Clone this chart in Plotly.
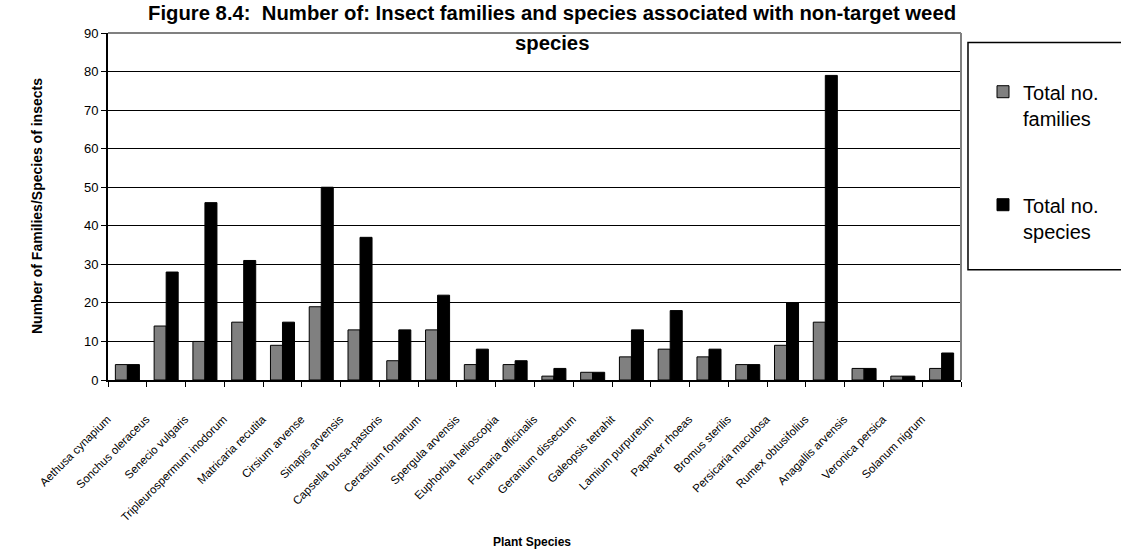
import plotly.graph_objects as go

# Weed species on the category axis
plants = [
    "Aethusa cynapium", "Sonchus oleraceus", "Senecio vulgaris",
    "Tripleurospermum inodorum", "Matricaria recutita", "Cirsium arvense",
    "Sinapis arvensis", "Capsella bursa-pastoris", "Cerastium fontanum",
    "Spergula arvensis", "Euphorbia helioscopia", "Fumaria officinalis",
    "Geranium dissectum", "Galeopsis tetrahit", "Lamium purpureum",
    "Papaver rhoeas", "Bromus sterilis", "Persicaria maculosa",
    "Rumex obtusifolius", "Anagallis arvensis", "Veronica persica",
    "Solanum nigrum",
]

# Insect counts per weed species
families = [4, 14, 10, 15, 9, 19, 13, 5, 13, 4, 4, 1, 2, 6, 8, 6, 4, 9, 15, 3, 1, 3]
species = [4, 28, 46, 31, 15, 50, 37, 13, 22, 8, 5, 3, 2, 13, 18, 8, 4, 20, 79, 3, 1, 7]

y_ticks = list(range(0, 91, 10))

FONT = "Liberation Sans, Arial, sans-serif"
NARROW = "Liberation Sans Narrow, Arial Narrow, Liberation Sans, Arial, sans-serif"

fig = go.Figure()
fig.add_bar(
    x=plants, y=families, name="Total no.<br>families", legendgroup="fam",
    marker=dict(color="#808080", line=dict(color="#000000", width=1)),
)
fig.add_bar(
    x=plants, y=species, name="Total no.<br>species", legendgroup="spp",
    marker=dict(color="#000000", line=dict(color="#000000", width=1)),
)

fig.update_layout(
    width=1121, height=556,
    margin=dict(l=108, r=160, t=33, b=176, autoexpand=False),
    paper_bgcolor="white", plot_bgcolor="white",
    barmode="group", bargap=0.38, bargroupgap=0,
    font=dict(family=FONT, color="black"),
    showlegend=True,
    legend=dict(
        x=1.0258, y=0.887, xanchor="left", yanchor="top",
        font=dict(family=FONT, size=20, color="black"),
        valign="top", tracegroupgap=58, traceorder="grouped",
        bgcolor="rgba(0,0,0,0)", borderwidth=0,
    ),
    xaxis=dict(
        type="category", tickson="boundaries", ticks="outside", ticklen=5,
        tickcolor="black", tickwidth=1, showline=True, linecolor="black",
        linewidth=2, showgrid=False, tickangle=-45,
        tickfont=dict(family=NARROW, size=11.5, color="black"),
        ticklabelstandoff=26, ticklabelshift=-20,
    ),
    yaxis=dict(
        range=[0, 90], tickvals=y_ticks, ticktext=[str(v) for v in y_ticks],
        showgrid=True, gridcolor="black", gridwidth=1,
        showline=True, linecolor="black", linewidth=2,
        ticks="outside", ticklen=5, tickcolor="black", tickwidth=1,
        tickfont=dict(family=FONT, size=13, color="black"), zeroline=False,
    ),
    shapes=[
        # grey frame on top and right of the plotting area
        dict(type="line", xref="paper", yref="paper", x0=0, x1=1, y0=1, y1=1,
             line=dict(color="#808080", width=2), layer="above"),
        dict(type="line", xref="paper", yref="paper", x0=1, x1=1, y0=0, y1=1,
             line=dict(color="#808080", width=2), layer="above"),
        # legend frame
        dict(type="rect", xref="paper", yref="paper", x0=1.0082, x1=1.2, y0=0.3175, y1=0.9726,
             line=dict(color="black", width=1.5), fillcolor="rgba(0,0,0,0)"),
    ],
    annotations=[
        dict(text="Figure 8.4:\u00a0 Number of: Insect families and species associated with non-target weed",
             xref="paper", yref="paper", x=0.5205, y=1.0567, xanchor="center", yanchor="middle",
             showarrow=False, font=dict(family=FONT, size=20.3, color="black", weight="bold")),
        dict(text="species",
             xref="paper", yref="paper", x=0.5205, y=0.970, xanchor="center", yanchor="middle",
             showarrow=False, font=dict(family=FONT, size=20.3, color="black", weight="bold")),
        dict(text="Plant Species",
             xref="paper", yref="paper", x=0.497, y=-0.466, xanchor="center", yanchor="middle",
             showarrow=False, font=dict(family=FONT, size=12, color="black", weight="bold")),
        dict(text="Number of Families/Species of insects",
             xref="paper", yref="paper", x=-0.0838, y=0.5, xanchor="center", yanchor="middle",
             textangle=-90, showarrow=False,
             font=dict(family=FONT, size=14, color="black", weight="bold")),
    ],
)

fig.write_html("out.html")
